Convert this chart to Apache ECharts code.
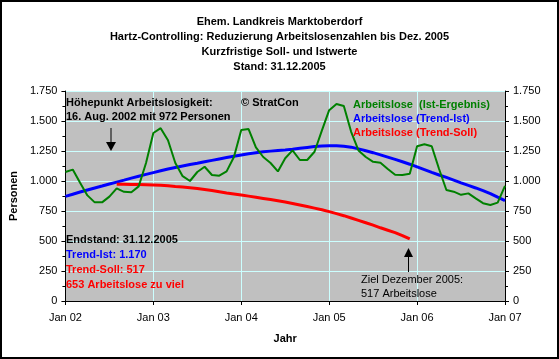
<!DOCTYPE html>
<html>
<head>
<meta charset="utf-8">
<script src="https://cdn.jsdelivr.net/npm/echarts@6/dist/echarts.min.js"></script>
<style>
html,body{margin:0;padding:0;background:#fff;}
#c{width:559px;height:359px;}
</style>
</head>
<body>
<div id="c"></div>
<script>
// Month index 0 = Jan 2002 ... 60 = Jan 2007
const xLabels = ['Jan 02','Jan 03','Jan 04','Jan 05','Jan 06','Jan 07'];
const yTicks = [0,250,500,750,1000,1250,1500,1750];
const titleLines = ['Ehem. Landkreis Marktoberdorf','Hartz-Controlling: Reduzierung Arbeitslosenzahlen bis Dez. 2005','Kurzfristige Soll- und Istwerte','Stand: 31.12.2005'];
const seriesNames = ['Arbeitslose  (Ist-Ergebnis)','Arbeitslose (Trend-Ist)','Arbeitslose (Trend-Soll)'];

// Ist-Ergebnis, monthly from Jan 2002 to Jan 2007
const istValues = [1075,1095,985,880,822,822,870,939,910,906,
  955,1150,1400,1440,1340,1150,1040,1000,1075,1119,
  1050,1044,1080,1200,1425,1433,1280,1200,1150,1080,
  1190,1255,1175,1175,1244,1420,1590,1642,1625,1410,
  1255,1200,1160,1153,1100,1052,1050,1060,1290,1306,
  1290,1100,925,911,885,897,855,815,800,820,
  960];
const istStart = 0;

// Trend-Ist, monthly from Jan 2002 to Jan 2007
const trendIstValues = [872,890,908,925,942,958,975,991,1007,1024,
  1040,1055,1070,1085,1100,1113,1125,1137,1148,1160,
  1172,1184,1195,1206,1217,1227,1236,1243,1249,1254,
  1258,1265,1273,1280,1287,1292,1294,1293,1289,1282,
  1268,1252,1236,1218,1199,1180,1160,1140,1118,1095,
  1072,1050,1030,1008,985,963,942,920,895,865,
  836];
const trendIstStart = 0;

// Trend-Soll, monthly from Aug 2002 to Dec 2005
const trendSollValues = [972,972,971,970,968,966,964,961,955,950,
  944,938,929,920,910,900,892,883,874,865,
  855,845,835,825,813,800,787,774,761,745,
  728,711,692,672,652,632,610,590,570,545,
  517];
const trendSollStart = 7;

const colors = ['#008000','#0000FF','#FF0000'];

function pairs(vals, start){ return vals.map((v,i)=>[start+i, v]); }
function fmt(v){ return v>=1000 ? Math.floor(v/1000)+'.'+String(v%1000).padStart(3,'0') : String(v); }

const FONT = 'Liberation Sans, Arial, sans-serif';
const chart = echarts.init(document.getElementById('c'), null, {renderer:'canvas'});

const titleGraphics = titleLines.map((t,i)=>({
  type:'text', left:'center', top: 16 + i*15, z:100,
  style:{text:t, font:'bold 11px '+FONT, fill:'#000'}
}));

function txt(x,y,t,color,bold){
  return {type:'text', x:x, y:y, z:100, style:{text:t, font:(bold?'bold ':'')+'11px '+FONT, fill:color, textVerticalAlign:'middle'}};
}

const yAxisCommon = {
  type:'value', min:0, max:1750, interval:250,
  axisLine:{show:true, lineStyle:{color:'#000', width:1}},
  axisTick:{show:true, inside:false, length:4, lineStyle:{color:'#000'}},
  minorTick:{show:true, splitNumber:2, length:3, lineStyle:{color:'#000'}},
  axisLabel:{fontFamily:FONT, fontSize:11, color:'#000', margin:8, formatter:fmt}
};

chart.setOption({
  animation:false,
  backgroundColor:'#fff',
  grid:{left:61, right:54, top:91, bottom:58, show:true, backgroundColor:'#C0C0C0', borderWidth:0},
  legend:{
    orient:'vertical', left:343, top:94, itemWidth:0, itemHeight:0, itemGap:3,
    icon:'rect', selectedMode:false, z:100,
    data: seriesNames.map((n,i)=>({name:n, textStyle:{color:colors[i], fontWeight:'bold', fontSize:11, fontFamily:FONT}}))
  },
  xAxis:{
    type:'value', min:0, max:60, interval:12,
    name:'Jahr', nameLocation:'middle', nameGap:32,
    nameTextStyle:{fontFamily:FONT, fontSize:11, fontWeight:'bold', color:'#000'},
    axisLine:{show:true, onZero:false, lineStyle:{color:'#000', width:1}},
    axisTick:{show:true, length:4, lineStyle:{color:'#000'}},
    axisLabel:{fontFamily:FONT, fontSize:11, color:'#000', margin:11, formatter:(v)=>xLabels[Math.round(v/12)]},
    splitLine:{show:true, lineStyle:{color:'#CCFFFF', width:1}}
  },
  yAxis:[
    Object.assign({}, yAxisCommon, {
      position:'left',
      name:'Personen', nameLocation:'middle', nameGap:41, nameRotate:90,
      nameTextStyle:{fontFamily:FONT, fontSize:11, fontWeight:'bold', color:'#000'},
      splitLine:{show:true, lineStyle:{color:'#CCFFFF', width:1}}
    }),
    Object.assign({}, yAxisCommon, {position:'right', splitLine:{show:false}})
  ],
  series:[
    {name:seriesNames[0], type:'line', data:pairs(istValues, istStart), showSymbol:false, symbol:'none',
     lineStyle:{color:colors[0], width:2}, itemStyle:{color:colors[0]}, z:3},
    {name:seriesNames[1], type:'line', data:pairs(trendIstValues, trendIstStart), showSymbol:false, symbol:'none',
     lineStyle:{color:colors[1], width:3}, itemStyle:{color:colors[1]}, z:2},
    {name:seriesNames[2], type:'line', data:pairs(trendSollValues, trendSollStart), showSymbol:false, symbol:'none',
     lineStyle:{color:colors[2], width:3}, itemStyle:{color:colors[2]}, z:2}
  ],
  graphic: titleGraphics.concat([
    {type:'rect', shape:{x:1, y:1, width:557, height:357}, style:{fill:'none', stroke:'#000', lineWidth:2}, z:100},
    txt(66,103,'Höhepunkt Arbeitslosigkeit:','#000',true),
    txt(66,117,'16. Aug. 2002 mit 972 Personen','#000',true),
    txt(241,103,'© StratCon','#000',true),
    {type:'line', shape:{x1:111, y1:128, x2:111, y2:143}, style:{stroke:'#000', lineWidth:1}, z:100},
    {type:'polygon', shape:{points:[[106,142],[116,142],[111,151]]}, style:{fill:'#000'}, z:100},
    txt(66,240,'Endstand: 31.12.2005','#000',true),
    txt(66,255,'Trend-Ist: 1.170','#0000FF',true),
    txt(66,270,'Trend-Soll: 517','#FF0000',true),
    txt(66,285,'653 Arbeitslose zu viel','#FF0000',true),
    txt(361,280,'Ziel Dezember 2005:','#000',false),
    txt(361,294,'517 Arbeitslose','#000',false),
    {type:'line', shape:{x1:408.5, y1:255, x2:408.5, y2:272}, style:{stroke:'#000', lineWidth:1}, z:100},
    {type:'polygon', shape:{points:[[404,257],[413,257],[408.5,248]]}, style:{fill:'#000'}, z:100}
  ])
});
</script>
</body>
</html>
